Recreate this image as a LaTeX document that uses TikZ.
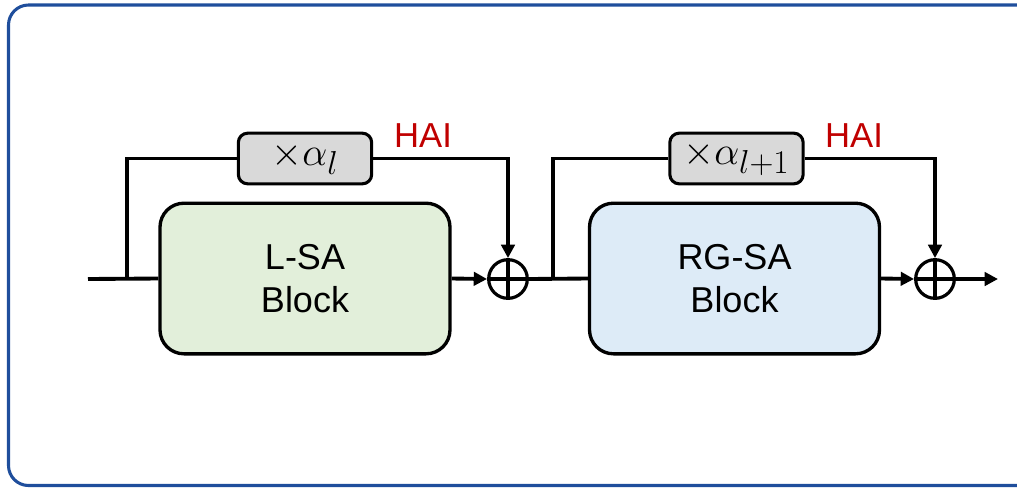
\documentclass[tikz,border=0pt]{standalone}
\usepackage{graphicx}
\usepackage{fontspec}
\setmainfont{Liberation Sans}
\usetikzlibrary{arrows.meta}
\definecolor{framecol}{HTML}{1F4E9C}
\definecolor{lsafill}{HTML}{E2EFDA}
\definecolor{rgsafill}{HTML}{DDEBF7}
\definecolor{scalefill}{HTML}{D9D9D9}
\definecolor{haired}{HTML}{C00000}
% enlarged factor label (math fonts stop growing at 24.88pt)
\newcommand{\factorlabel}[1]{\scalebox{1.2}{#1}}
\tikzset{
  wire/.style={line width=2.9pt, line join=miter},
  arr/.style={wire, -{Triangle[length=10pt,width=10pt]}},
  block/.style={draw, line width=2.5pt, rounded corners=18pt,
    minimum width=217.5pt, minimum height=113pt, align=center,
    font=\fontsize{27}{32}\selectfont},
  scalebox/.style={draw, fill=scalefill, line width=2.3pt, rounded corners=7pt,
    minimum width=100pt, minimum height=38pt, inner sep=0pt,
    font=\fontsize{24.88}{30}\selectfont},
  sumnode/.style={draw, circle, line width=2.4pt, minimum size=29pt, inner sep=0pt,
    path picture={
      \draw[line width=2.4pt] (path picture bounding box.north) -- (path picture bounding box.south)
        (path picture bounding box.west) -- (path picture bounding box.east);}},
  hailabel/.style={text=haired, font=\fontsize{26}{30}\selectfont}
}
\begin{document}
\begin{tikzpicture}[x=0.75pt, y=-0.75pt]
  \useasboundingbox (0,0) rectangle (1017,487);
  % outer frame (continues past the right edge)
  \begin{scope}
    \clip (0,0) rectangle (1017,487);
    \draw[framecol, line width=2.3pt, rounded corners=15pt] (8.5,5) rectangle (1040,485.5);
  \end{scope}

  % blocks
  \node[block, fill=lsafill] (lsa) at (305,278.5) {L-SA\\Block};
  \node[block, fill=rgsafill] (rgsa) at (734.5,278.5) {RG-SA\\Block};

  % scaling factors
  \node[scalebox] (s1) at (305,158.5) {\factorlabel{$\times\alpha_l$}};
  \node[scalebox] (s2) at (736.5,158.5) {\factorlabel{$\times\alpha_{l+1}$}};

  % labels
  \node[hailabel] (h1) at (423,136) {HAI};
  \node[hailabel] (h2) at (854,136) {HAI};

  % adders
  \node[sumnode] (sum1) at (508,279) {};
  \node[sumnode] (sum2) at (935,279) {};

  % wiring points
  \coordinate (in) at (88,279);
  \coordinate (b1) at (127,279);
  \coordinate (b2) at (553,279);
  \coordinate (out) at (998,279);

  % first stage
  \draw[wire] (in) -- (lsa.west);
  \draw[wire] (b1) |- (s1.west);
  \draw[arr] (s1.east) -| (sum1.north);
  \draw[arr] (lsa.east) -- (sum1.west);

  % second stage
  \draw[wire] (sum1.east) -- (rgsa.west);
  \draw[wire] (b2) |- (s2.west);
  \draw[arr] (s2.east) -| (sum2.north);
  \draw[arr] (rgsa.east) -- (sum2.west);
  \draw[arr] (sum2.east) -- (out);
\end{tikzpicture}
\end{document}
